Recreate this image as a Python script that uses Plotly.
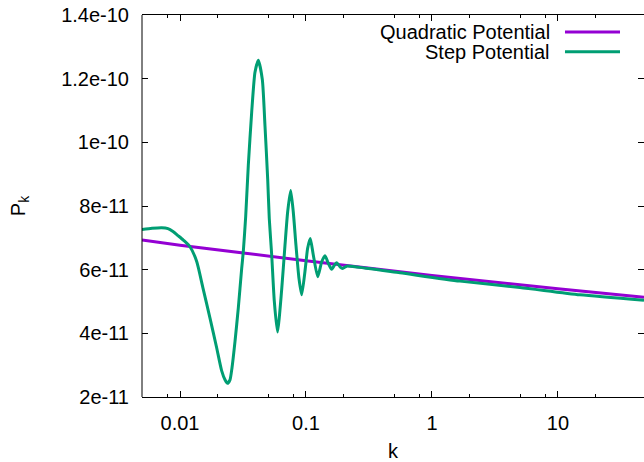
import plotly.graph_objects as go

# ---- data ----
quad_k = [0.005, 0.01, 0.1, 1.0, 10.0, 48.2]
quad_P = [6.93e-11, 6.77e-11, 6.28e-11, 5.82e-11, 5.40e-11, 5.13e-11]

step_k = [0.00499, 0.00600, 0.00716, 0.00803, 0.00880, 0.00964, 0.01062, 0.0120,
          0.01357, 0.01522, 0.01730, 0.01956, 0.02143, 0.02276, 0.02382, 0.02494,
          0.02587, 0.02733, 0.02902, 0.03088, 0.03180, 0.03322, 0.03484, 0.03707,
          0.03937, 0.04182, 0.04500, 0.04727, 0.04966, 0.05114, 0.05344, 0.05604,
          0.05942, 0.06415, 0.06813, 0.07157, 0.07559, 0.07926, 0.08326, 0.08796,
          0.09244, 0.09819, 0.1031, 0.1082, 0.1143, 0.1239, 0.1333, 0.1415,
          0.1503, 0.1600, 0.1699, 0.1753, 0.1862, 0.1956, 0.2104, 0.2448,
          0.557, 1.667, 4.99, 14.96, 48.2]
step_P = [7.26, 7.30, 7.32, 7.29, 7.20, 7.07, 6.93, 6.72,
          6.26, 5.42, 4.48, 3.54, 2.82, 2.54, 2.43, 2.54,
          2.92, 3.75, 4.79, 6.04, 6.57, 7.67, 9.27, 10.95,
          12.20, 12.58, 11.98, 10.52, 8.85, 7.60, 6.46, 5.01,
          4.04, 5.38, 6.77, 7.82, 8.49, 7.82, 6.77, 5.73,
          5.21, 5.95, 6.67, 6.98, 6.46, 5.78, 6.25, 6.44,
          6.20, 6.01, 6.17, 6.22, 6.09, 6.04, 6.11, 6.09,
          5.90, 5.64, 5.44, 5.21, 5.04]
step_P = [v * 1e-11 for v in step_P]

series_names = ["Quadratic Potential", "Step Potential"]
series_colors = ["#9400D3", "#009E73"]

x_tickvals = [0.01, 0.1, 1, 10]
x_ticktext = ["0.01", "0.1", "1", "10"]
x_minor = [0.008, 0.02, 0.05, 0.08, 0.2, 0.5, 0.8, 2, 5, 8, 20]
y_tickvals = [2e-11, 4e-11, 6e-11, 8e-11, 1e-10, 1.2e-10, 1.4e-10]
y_ticktext = ["2e-11", "4e-11", "6e-11", "8e-11", "1e-10", "1.2e-10", "1.4e-10"]

FONT = "Liberation Sans, Arial, sans-serif"
FS = 20

fig = go.Figure()
fig.add_trace(go.Scatter(x=quad_k, y=quad_P, mode="lines", name=series_names[0],
                         line=dict(color=series_colors[0], width=3), showlegend=False))
fig.add_trace(go.Scatter(x=step_k, y=step_P, mode="lines", name=series_names[1],
                         line=dict(color=series_colors[1], width=3, shape="spline", smoothing=0.6),
                         showlegend=False))

# gnuplot-style key: text right-aligned, sample line on the right
key_rows_y = [0.9557, 0.9036]
for name, col, yy in zip(series_names, series_colors, key_rows_y):
    fig.add_annotation(x=0.8167, y=yy, xref="paper", yref="paper", text=name,
                       showarrow=False, xanchor="right", yanchor="middle",
                       font=dict(family=FONT, size=FS, color="black"))
    fig.add_shape(type="line", xref="paper", yref="paper", x0=0.8426, x1=0.9522,
                  y0=yy, y1=yy, line=dict(color=col, width=3))

# left border
fig.add_shape(type="line", xref="paper", yref="paper", x0=0, x1=0, y0=0, y1=1,
              line=dict(color="black", width=1))

fig.update_layout(
    width=644, height=462,
    margin=dict(l=142, r=0, t=15, b=63),
    paper_bgcolor="white", plot_bgcolor="white",
    font=dict(family=FONT, size=FS, color="black"),
    showlegend=False,
    xaxis=dict(type="log", range=[-2.3016, 1.683], showgrid=False, zeroline=False,
               showline=True, linecolor="black", linewidth=1, mirror="ticks",
               ticks="inside", ticklen=6, tickcolor="black",
               tickmode="array", tickvals=x_tickvals, ticktext=x_ticktext,
               minor=dict(tickmode="array", tickvals=x_minor, ticks="inside",
                          ticklen=3, tickcolor="black", showgrid=False),
               ticklabelstandoff=8,
               title=dict(text="k", standoff=14, font=dict(family=FONT, size=FS))),
    yaxis=dict(range=[2e-11, 1.4e-10], showgrid=False, zeroline=False,
               showline=False, mirror="ticks",
               ticks="inside", ticklen=6, tickcolor="black",
               tickmode="array", tickvals=y_tickvals, ticktext=y_ticktext,
               ticklabelstandoff=12,
               title=dict(text="P<sub>k</sub>", standoff=30, font=dict(family=FONT, size=FS))),
)

fig.write_html("out.html")
